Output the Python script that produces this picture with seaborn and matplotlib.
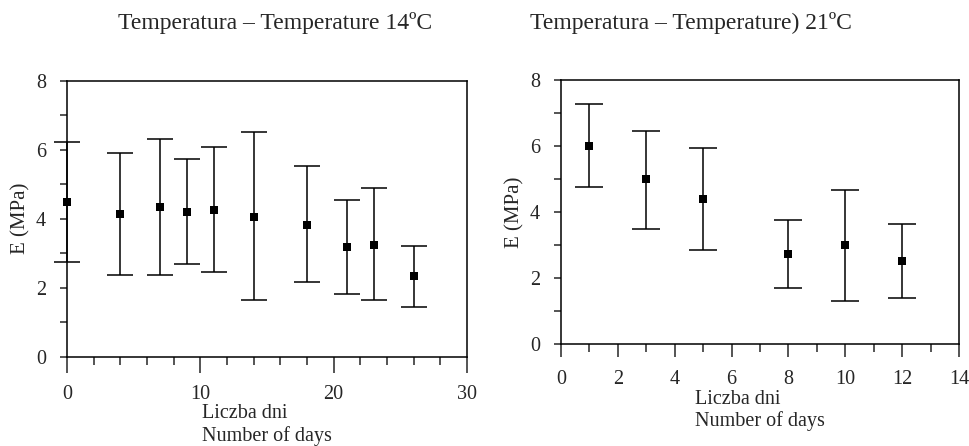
import numpy as np
import pandas as pd
import matplotlib
matplotlib.use("Agg")
import matplotlib.pyplot as plt
import seaborn as sns

# 14 C series
days_14 = [0, 4, 7, 9, 11, 14, 18, 21, 23, 26]
e_14 = [4.49, 4.13, 4.35, 4.20, 4.25, 4.05, 3.83, 3.18, 3.25, 2.33]
e_14_low = [2.74, 2.36, 2.36, 2.69, 2.45, 1.64, 2.15, 1.82, 1.65, 1.45]
e_14_high = [6.24, 5.92, 6.31, 5.73, 6.07, 6.51, 5.52, 4.55, 4.88, 3.22]

# 21 C series
days_21 = [1, 3, 5, 8, 10, 12]
e_21 = [6.00, 4.99, 4.39, 2.74, 2.99, 2.52]
e_21_low = [4.77, 3.49, 2.84, 1.70, 1.30, 1.40]
e_21_high = [7.27, 6.46, 5.95, 3.75, 4.68, 3.65]

title_14 = "Temperatura \u2013 Temperature 14\u00baC"
title_21 = "Temperatura \u2013 Temperature) 21\u00baC"
xlabel = "Liczba dni\nNumber of days"
ylabel = "E (MPa)"

sns.set_style("ticks")
plt.rcParams['font.family'] = ['Liberation Serif', 'DejaVu Serif']
plt.rcParams['axes.linewidth'] = 1.1


def draw_panel(ax, x, y, lo, hi, xmax, xmajor, capsize, major_len, lab_space, lab_pad):
    df = pd.DataFrame({"day": x, "E": y})
    yerr = [np.array(y) - np.array(lo), np.array(hi) - np.array(y)]
    ax.errorbar(x, y, yerr=yerr, fmt="none", ecolor="black", elinewidth=1.1,
                capsize=capsize, capthick=1.1, clip_on=False, zorder=2)
    sns.scatterplot(data=df, x="day", y="E", ax=ax, marker="s", color="black",
                    s=38, edgecolor="black", linewidth=0, clip_on=False, zorder=3)
    ax.set_xlim(0, xmax)
    ax.set_ylim(0, 8)
    ax.set_xticks(np.arange(0, xmax + 0.1, xmajor))
    ax.set_xticks(np.arange(0, xmax + 0.1, xmajor / 2 if xmajor == 2 else 2), minor=True)
    ax.set_yticks([0, 2, 4, 6, 8])
    ax.set_yticks([1, 3, 5, 7], minor=True)
    ax.tick_params(axis="x", which="major", direction="out", length=major_len,
                   width=1.1, pad=9, labelsize=14.5)
    ax.tick_params(axis="x", which="minor", direction="out", length=5.8, width=1.1)
    ax.tick_params(axis="y", which="both", direction="out", length=5, width=1.1,
                   pad=10, labelsize=14.5)
    for s in ax.spines.values():
        s.set_visible(True)
        s.set_color("black")
    ax.set_xlabel(xlabel, fontsize=14.5, multialignment="left",
                  linespacing=lab_space, labelpad=lab_pad)
    ax.set_ylabel(ylabel, fontsize=15, labelpad=4)
    ax.grid(False)


fig = plt.figure(figsize=(9.7, 4.46), dpi=100)
ax1 = fig.add_axes([67 / 970, (446 - 356.5) / 446, 400 / 970, 275.5 / 446])
ax2 = fig.add_axes([561 / 970, (446 - 344) / 446, 398 / 970, 264 / 446])

draw_panel(ax1, days_14, e_14, e_14_low, e_14_high, 30, 10, 9.7, 11.5, 1.18, 0)
draw_panel(ax2, days_21, e_21, e_21_low, e_21_high, 14, 2, 10.4, 9.4, 1.15, 1)

fig.text(275 / 970, 1 - 23.5 / 446, title_14, ha="center", va="center", fontsize=17)
fig.text(691 / 970, 1 - 23.5 / 446, title_21, ha="center", va="center", fontsize=17)

fig.savefig("out.png", dpi=100)
